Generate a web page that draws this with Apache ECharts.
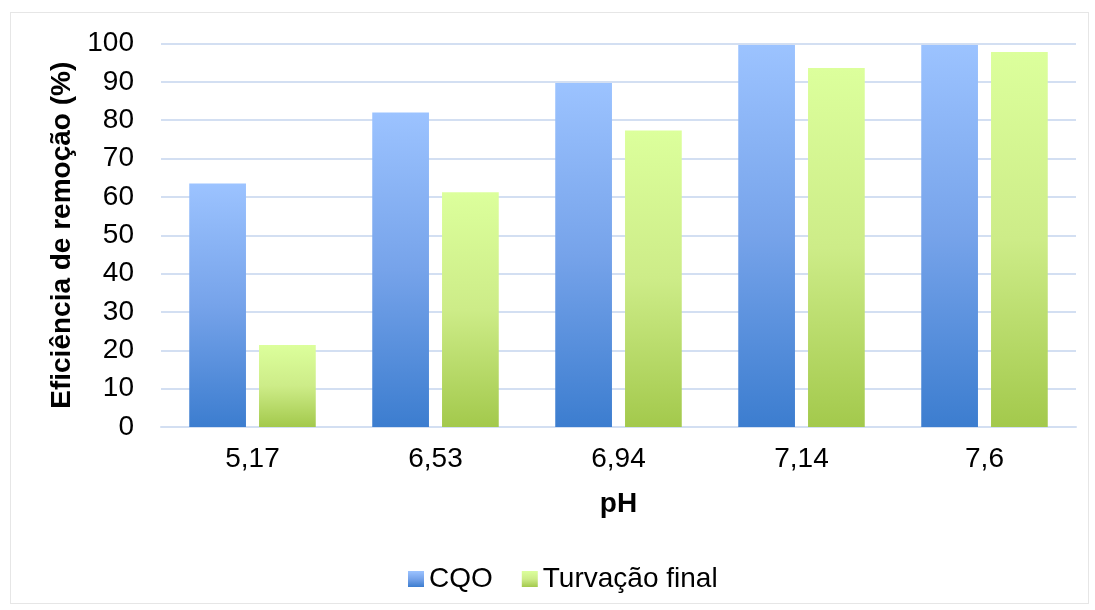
<!DOCTYPE html>
<html>
<head>
<meta charset="utf-8">
<script src="https://cdn.jsdelivr.net/npm/echarts@6/dist/echarts.min.js"></script>
<style>
  body { margin: 0; background: #fff; }
  #chart { position: absolute; left: 10px; top: 12px; width: 1079px; height: 592px; border: 1px solid #e6e6e6; box-sizing: border-box; }
</style>
</head>
<body>
<div id="chart"></div>
<script>
const categories = ['5,17', '6,53', '6,94', '7,14', '7,6'];
const cqo = [63.5, 82, 89.7, 99.6, 99.6];
const turvacao = [21.4, 61.2, 77.3, 93.6, 97.8];

const myChart = echarts.init(document.getElementById('chart'));
const font = '"Liberation Sans", Arial, sans-serif';
const options = {
  animation: false,
  grid: { left: 150, right: 12, top: 30.5, bottom: 176 },
  legend: {
    top: 547,
    left: 392,
    icon: 'rect',
    itemWidth: 16,
    itemHeight: 16,
    itemGap: 29,
    textStyle: { color: '#000', fontSize: 28, fontFamily: font },
    data: ['CQO', 'Turvação final'],
  },
  xAxis: {
    type: 'category',
    data: categories,
    name: 'pH',
    nameLocation: 'middle',
    nameGap: 63,
    nameTextStyle: { color: '#000', fontSize: 28, fontWeight: 'bold', fontFamily: font },
    axisLine: { lineStyle: { color: '#d3dff2', width: 2 } },
    axisTick: { show: false },
    axisLabel: { color: '#000', fontSize: 28, fontFamily: font, margin: 18 },
  },
  yAxis: {
    type: 'value',
    min: 0,
    max: 100,
    interval: 10,
    name: 'Eficiência de remoção (%)',
    nameLocation: 'middle',
    nameGap: 84,
    nameTextStyle: { color: '#000', fontSize: 28, fontWeight: 'bold', fontFamily: font },
    axisLabel: { color: '#000', fontSize: 28, fontFamily: font, margin: 27 },
    splitLine: { lineStyle: { color: '#d3dff2', width: 2 } },
  },
  series: [
    {
      name: 'CQO',
      type: 'bar',
      data: cqo,
      barWidth: '31%',
      barGap: '23%',
      itemStyle: {
        color: new echarts.graphic.LinearGradient(0, 0, 0, 1, [
          { offset: 0, color: '#9cc3ff' },
          { offset: 0.5, color: '#76a3ea' },
          { offset: 1, color: '#3c7dcf' },
        ]),
      },
    },
    {
      name: 'Turvação final',
      type: 'bar',
      data: turvacao,
      barWidth: '31%',
      itemStyle: {
        color: new echarts.graphic.LinearGradient(0, 0, 0, 1, [
          { offset: 0, color: '#dcff9c' },
          { offset: 0.5, color: '#cdec88' },
          { offset: 1, color: '#a3c94c' },
        ]),
      },
    },
  ],
};
myChart.setOption(options);
</script>
</body>
</html>
